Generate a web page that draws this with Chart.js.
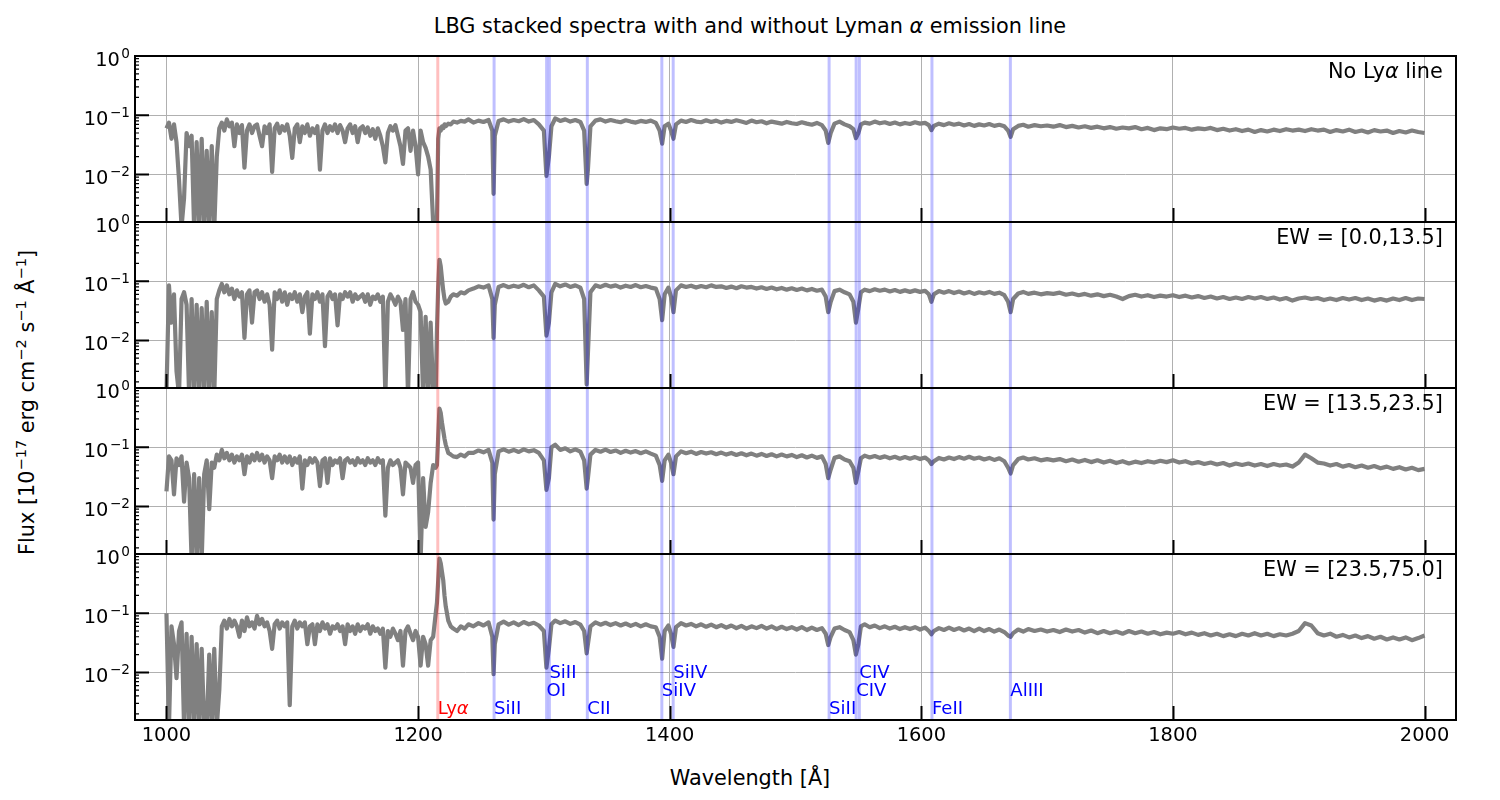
<!DOCTYPE html>
<html>
<head>
<meta charset="utf-8">
<script src="https://cdn.jsdelivr.net/npm/chart.js@4.4.1/dist/chart.umd.min.js"></script>
<style>
  body { margin: 0; background: #fff; font-family: "DejaVu Sans", sans-serif; }
  #page { position: relative; width: 1500px; height: 800px; overflow: hidden; background: #fff; }
  canvas { position: absolute; left: 0; }
  .txt { position: absolute; color: #000; font-size: 20.8px; line-height: 20.8px; white-space: nowrap; }
  .e { font-size: 70%; position: relative; top: -0.55em; }
  .m { display: inline-block; width: 0.838em; text-align: center; }
</style>
</head>
<body>
<div id="page">
  <div class="txt" style="left:0;top:16px;width:1500px;text-align:center">LBG stacked spectra with and without Lyman <i>α</i> emission line</div>
  <div class="txt" style="left:0;top:768px;width:1500px;text-align:center">Wavelength [Å]</div>
  <div class="txt" style="left:-172px;top:391px;width:400px;text-align:center;transform:rotate(-90deg)">Flux [10<span class="e"><span class="m">−</span>17</span> erg cm<span class="e"><span class="m">−</span>2</span> s<span class="e"><span class="m">−</span>1</span> Å<span class="e"><span class="m">−</span>1</span>]</div>
</div>
<script>
// Wavelength grid [Å] shared by the four stacks
const wave = [
  // Lyman forest
  1000, 1002, 1004, 1006, 1008, 1010, 1012, 1014, 1016, 1018, 1020, 1022,
  1024, 1026, 1028, 1030, 1032, 1034, 1036, 1038, 1040, 1042, 1044, 1046,
  1048, 1050, 1052, 1054, 1056, 1058, 1060, 1062, 1064, 1066, 1068, 1070,
  1072, 1074, 1076, 1078, 1080, 1082, 1084, 1086, 1088, 1090, 1092, 1094,
  1096, 1098, 1100, 1102, 1104, 1106, 1108, 1110, 1112, 1114, 1116, 1118,
  1120, 1122, 1124, 1126, 1128, 1130, 1132, 1134, 1136, 1138, 1140, 1142,
  1144, 1146, 1148, 1150, 1152, 1154, 1156, 1158, 1160, 1162, 1164, 1166,
  1168, 1170, 1172, 1174, 1176, 1178, 1180, 1182, 1184, 1186, 1188, 1190,
  1192, 1194, 1196, 1198, 1200, 1202, 1204, 1206, 1208, 1210, 1212,
  // Lyman alpha
  1214, 1215, 1216, 1217, 1218, 1219, 1220, 1221, 1222, 1224, 1226, 1228, 1231, 1234, 1237, 1240,
  // metal lines
  1244, 1248, 1252, 1256, 1259, 1260, 1261, 1264, 1268, 1272,
  1276, 1280, 1284, 1288, 1292, 1296, 1300, 1302, 1304, 1306,
  1309, 1313, 1317, 1321, 1325, 1329, 1332, 1334, 1335, 1337,
  1341, 1345, 1349, 1353, 1357, 1361, 1365, 1369, 1373, 1377,
  1381, 1385, 1389, 1392, 1394, 1396, 1399, 1401, 1403, 1405,
  1409, 1413, 1417, 1421, 1425, 1429, 1433, 1437, 1441, 1445,
  1449, 1453, 1457, 1461, 1465, 1469, 1473, 1477, 1481, 1485,
  1489, 1493, 1497, 1501, 1505, 1509, 1513, 1517, 1521, 1524,
  1526, 1528, 1531, 1535, 1539, 1543, 1546, 1548, 1550, 1552,
  1555, 1559, 1563, 1567, 1571, 1575, 1579, 1583, 1587, 1591,
  1595, 1599, 1603, 1606, 1608, 1610, 1614, 1618, 1622, 1626,
  1630, 1634, 1638, 1642, 1646, 1650, 1654, 1658, 1662, 1666,
  1669, 1671, 1673, 1677, 1681, 1685, 1690, 1695, 1700,
  // red side
  1705, 1710, 1715, 1720, 1725, 1730, 1735, 1740, 1745, 1750,
  1755, 1760, 1765, 1770, 1775, 1780, 1785, 1790, 1795, 1800,
  1805, 1810, 1815, 1820, 1825, 1830, 1835, 1840, 1845, 1850,
  1855, 1860, 1865, 1870, 1875, 1880, 1885, 1890, 1895, 1900,
  1905, 1910, 1915, 1920, 1925, 1930, 1935, 1940, 1945, 1950,
  1955, 1960, 1965, 1970, 1975, 1980, 1985, 1990, 1995, 2000
];

// Flux [1e-17 erg/cm2/s/A], one array per stack
const fluxNoLya = [
  0.06, 0.075, 0.04, 0.07, 0.035, 0.008, 0.0013, 0.004, 0.05, 0.03, 0.045, 0.0012,
  0.035, 0.0012, 0.04, 0.0012, 0.025, 0.0012, 0.03, 0.0012, 0.02, 0.06, 0.075, 0.055,
  0.085, 0.065, 0.075, 0.03, 0.07, 0.05, 0.068, 0.013, 0.055, 0.07, 0.05, 0.065,
  0.07, 0.045, 0.03, 0.065, 0.05, 0.07, 0.011, 0.06, 0.072, 0.05, 0.065, 0.055,
  0.07, 0.045, 0.019, 0.06, 0.07, 0.035, 0.065, 0.05, 0.07, 0.045, 0.06, 0.05,
  0.065, 0.012, 0.055, 0.07, 0.05, 0.065, 0.055, 0.07, 0.05, 0.068, 0.055, 0.035,
  0.06, 0.07, 0.05, 0.065, 0.035, 0.06, 0.065, 0.05, 0.062, 0.045, 0.058, 0.04,
  0.06, 0.045, 0.03, 0.016, 0.05, 0.065, 0.055, 0.068, 0.045, 0.03, 0.015, 0.055,
  0.06, 0.025, 0.055, 0.03, 0.01, 0.055, 0.035, 0.028, 0.02, 0.012, 0.0015,
  0.0012, 0.0015, 0.04, 0.06, 0.055, 0.065, 0.06, 0.07, 0.065, 0.072, 0.07, 0.078, 0.075, 0.08, 0.078, 0.085,
  0.075, 0.081, 0.077, 0.083, 0.055, 0.0047, 0.045, 0.08, 0.085, 0.078,
  0.083, 0.079, 0.086, 0.078, 0.083, 0.07, 0.055, 0.0094, 0.02, 0.065,
  0.088, 0.08, 0.085, 0.078, 0.083, 0.077, 0.055, 0.0069, 0.012, 0.065,
  0.081, 0.085, 0.078, 0.083, 0.079, 0.076, 0.082, 0.078, 0.075, 0.08,
  0.077, 0.081, 0.074, 0.055, 0.033, 0.065, 0.072, 0.055, 0.04, 0.07,
  0.081, 0.077, 0.083, 0.078, 0.076, 0.082, 0.077, 0.081, 0.075, 0.08,
  0.077, 0.082, 0.078, 0.074, 0.081, 0.076, 0.079, 0.073, 0.078, 0.075,
  0.072, 0.077, 0.073, 0.071, 0.076, 0.072, 0.069, 0.074, 0.068, 0.055,
  0.034, 0.05, 0.072, 0.078, 0.07, 0.065, 0.058, 0.041, 0.05, 0.07,
  0.075, 0.072, 0.078, 0.073, 0.076, 0.071, 0.075, 0.07, 0.074, 0.071,
  0.076, 0.072, 0.074, 0.068, 0.056, 0.066, 0.072, 0.068, 0.073, 0.069,
  0.072, 0.067, 0.071, 0.066, 0.07, 0.067, 0.071, 0.066, 0.069, 0.065,
  0.055, 0.043, 0.058, 0.066, 0.069, 0.064, 0.068, 0.065, 0.067,
  0.064, 0.068, 0.063, 0.066, 0.062, 0.065, 0.061, 0.064, 0.06, 0.063,
  0.059, 0.062, 0.06, 0.063, 0.058, 0.061, 0.056, 0.06, 0.058, 0.062,
  0.059, 0.061, 0.057, 0.06, 0.058, 0.061, 0.056, 0.059, 0.055, 0.058,
  0.054, 0.057, 0.052, 0.056, 0.053, 0.057, 0.054, 0.058, 0.055, 0.057,
  0.054, 0.058, 0.055, 0.057, 0.052, 0.056, 0.053, 0.057, 0.052, 0.055,
  0.051, 0.056, 0.053, 0.055, 0.05, 0.054, 0.051, 0.055, 0.052, 0.05
];

const fluxEwLow = [
  0.0013, 0.085, 0.02, 0.06, 0.003, 0.0012, 0.05, 0.065, 0.04, 0.0012, 0.05, 0.0012,
  0.04, 0.0012, 0.035, 0.0012, 0.045, 0.0012, 0.03, 0.0012, 0.05, 0.07, 0.09, 0.065,
  0.085, 0.06, 0.075, 0.05, 0.07, 0.055, 0.065, 0.011, 0.06, 0.07, 0.02, 0.065,
  0.07, 0.05, 0.065, 0.045, 0.06, 0.04, 0.007, 0.065, 0.05, 0.07, 0.045, 0.065,
  0.04, 0.06, 0.05, 0.065, 0.045, 0.06, 0.03, 0.055, 0.065, 0.013, 0.06, 0.05,
  0.065, 0.045, 0.06, 0.008, 0.055, 0.065, 0.05, 0.06, 0.018, 0.06, 0.05, 0.065,
  0.055, 0.065, 0.045, 0.06, 0.05, 0.055, 0.06, 0.045, 0.06, 0.04, 0.055, 0.05,
  0.06, 0.045, 0.055, 0.0012, 0.045, 0.06, 0.05, 0.04, 0.055, 0.045, 0.015, 0.05,
  0.0012, 0.05, 0.065, 0.045, 0.04, 0.03, 0.0012, 0.025, 0.0012, 0.02, 0.0012,
  0.0012, 0.015, 0.08, 0.23, 0.18, 0.11, 0.07, 0.05, 0.042, 0.045, 0.055, 0.06, 0.057, 0.065, 0.062, 0.07,
  0.075, 0.082, 0.078, 0.085, 0.05, 0.011, 0.04, 0.08, 0.086, 0.079,
  0.084, 0.08, 0.087, 0.079, 0.085, 0.07, 0.055, 0.012, 0.02, 0.065,
  0.09, 0.082, 0.088, 0.08, 0.085, 0.078, 0.05, 0.0018, 0.006, 0.065,
  0.085, 0.08, 0.087, 0.081, 0.085, 0.078, 0.084, 0.08, 0.086, 0.079,
  0.083, 0.078, 0.075, 0.05, 0.022, 0.06, 0.078, 0.055, 0.03, 0.07,
  0.085, 0.08, 0.084, 0.078, 0.083, 0.079, 0.085, 0.08, 0.082, 0.077,
  0.081, 0.076, 0.082, 0.078, 0.08, 0.075, 0.079, 0.074, 0.078, 0.073,
  0.077, 0.072, 0.076, 0.071, 0.075, 0.07, 0.074, 0.069, 0.072, 0.055,
  0.03, 0.045, 0.068, 0.072, 0.065, 0.06, 0.045, 0.02, 0.035, 0.065,
  0.072, 0.068, 0.073, 0.069, 0.072, 0.067, 0.071, 0.066, 0.07, 0.066,
  0.07, 0.066, 0.069, 0.06, 0.045, 0.06, 0.068, 0.064, 0.068, 0.063,
  0.067, 0.062, 0.066, 0.061, 0.065, 0.062, 0.066, 0.061, 0.064, 0.058,
  0.045, 0.03, 0.05, 0.062, 0.066, 0.061, 0.064, 0.06, 0.063,
  0.061, 0.064, 0.059, 0.062, 0.058, 0.061, 0.057, 0.06, 0.056, 0.059,
  0.055, 0.05, 0.056, 0.059, 0.055, 0.058, 0.054, 0.057, 0.055, 0.058,
  0.054, 0.057, 0.053, 0.056, 0.052, 0.055, 0.051, 0.054, 0.05, 0.053,
  0.05, 0.054, 0.051, 0.054, 0.05, 0.053, 0.049, 0.052, 0.047, 0.051,
  0.053, 0.05, 0.052, 0.048, 0.051, 0.048, 0.052, 0.049, 0.052, 0.048,
  0.051, 0.047, 0.05, 0.047, 0.051, 0.048, 0.052, 0.048, 0.051, 0.05
];

const fluxEwMid = [
  0.018, 0.07, 0.06, 0.016, 0.065, 0.05, 0.07, 0.012, 0.055, 0.03, 0.0012, 0.035,
  0.0012, 0.03, 0.0012, 0.035, 0.06, 0.009, 0.055, 0.045, 0.075, 0.06, 0.09, 0.065,
  0.08, 0.06, 0.075, 0.055, 0.07, 0.06, 0.075, 0.035, 0.07, 0.055, 0.075, 0.06,
  0.08, 0.06, 0.075, 0.055, 0.07, 0.06, 0.03, 0.07, 0.06, 0.075, 0.055, 0.07,
  0.055, 0.07, 0.05, 0.065, 0.055, 0.07, 0.02, 0.06, 0.05, 0.065, 0.055, 0.065,
  0.055, 0.022, 0.06, 0.065, 0.025, 0.065, 0.05, 0.06, 0.055, 0.065, 0.03, 0.06,
  0.065, 0.055, 0.06, 0.05, 0.065, 0.055, 0.06, 0.05, 0.065, 0.055, 0.06, 0.05,
  0.065, 0.055, 0.06, 0.007, 0.045, 0.06, 0.05, 0.055, 0.06, 0.045, 0.016, 0.055,
  0.05, 0.045, 0.025, 0.05, 0.055, 0.0012, 0.03, 0.0045, 0.008, 0.025, 0.05,
  0.045, 0.05, 0.15, 0.45, 0.38, 0.26, 0.19, 0.14, 0.11, 0.08, 0.075, 0.07, 0.068, 0.075, 0.07, 0.08,
  0.08, 0.088, 0.082, 0.09, 0.055, 0.006, 0.035, 0.085, 0.092, 0.084,
  0.09, 0.083, 0.092, 0.085, 0.089, 0.08, 0.06, 0.019, 0.03, 0.1,
  0.11, 0.09, 0.096, 0.085, 0.092, 0.084, 0.06, 0.02, 0.03, 0.075,
  0.09, 0.084, 0.091, 0.083, 0.088, 0.08, 0.087, 0.081, 0.086, 0.079,
  0.085, 0.078, 0.072, 0.05, 0.027, 0.06, 0.075, 0.055, 0.035, 0.07,
  0.085, 0.079, 0.084, 0.077, 0.083, 0.078, 0.082, 0.076, 0.081, 0.075,
  0.08, 0.074, 0.079, 0.073, 0.078, 0.072, 0.077, 0.071, 0.076, 0.07,
  0.075, 0.07, 0.074, 0.068, 0.073, 0.067, 0.072, 0.066, 0.07, 0.052,
  0.03, 0.042, 0.066, 0.07, 0.062, 0.058, 0.045, 0.025, 0.04, 0.065,
  0.072, 0.067, 0.071, 0.066, 0.07, 0.065, 0.069, 0.064, 0.068, 0.064,
  0.068, 0.063, 0.067, 0.06, 0.052, 0.058, 0.066, 0.062, 0.067, 0.063,
  0.068, 0.064, 0.069, 0.064, 0.067, 0.062, 0.066, 0.061, 0.065, 0.058,
  0.045, 0.036, 0.05, 0.063, 0.067, 0.062, 0.065, 0.06, 0.063,
  0.06, 0.063, 0.058, 0.062, 0.057, 0.061, 0.056, 0.06, 0.055, 0.059,
  0.054, 0.058, 0.053, 0.057, 0.054, 0.058, 0.055, 0.059, 0.056, 0.06,
  0.055, 0.058, 0.053, 0.056, 0.052, 0.055, 0.051, 0.054, 0.049, 0.053,
  0.05, 0.053, 0.049, 0.052, 0.048, 0.052, 0.049, 0.051, 0.047, 0.055,
  0.075, 0.065, 0.055, 0.053, 0.049, 0.052, 0.047, 0.05, 0.046, 0.049,
  0.045, 0.048, 0.044, 0.047, 0.043, 0.046, 0.042, 0.045, 0.041, 0.043
];

const fluxEwHigh = [
  0.1, 0.0012, 0.06, 0.03, 0.008, 0.05, 0.07, 0.0012, 0.045, 0.0012, 0.04, 0.0012,
  0.03, 0.0012, 0.025, 0.0012, 0.0012, 0.02, 0.0012, 0.025, 0.0012, 0.005, 0.06, 0.075,
  0.055, 0.08, 0.06, 0.075, 0.06, 0.04, 0.075, 0.05, 0.085, 0.06, 0.07, 0.055,
  0.09, 0.065, 0.08, 0.06, 0.07, 0.05, 0.025, 0.065, 0.075, 0.055, 0.07, 0.06,
  0.07, 0.0028, 0.06, 0.075, 0.055, 0.07, 0.06, 0.07, 0.03, 0.06, 0.065, 0.03,
  0.065, 0.05, 0.07, 0.055, 0.065, 0.045, 0.06, 0.055, 0.065, 0.05, 0.06, 0.03,
  0.065, 0.05, 0.06, 0.045, 0.065, 0.05, 0.06, 0.055, 0.065, 0.045, 0.06, 0.05,
  0.055, 0.045, 0.055, 0.012, 0.05, 0.04, 0.055, 0.045, 0.035, 0.05, 0.013, 0.05,
  0.06, 0.045, 0.035, 0.05, 0.04, 0.013, 0.04, 0.03, 0.013, 0.035, 0.04,
  0.098, 0.15, 0.35, 0.84, 0.7, 0.5, 0.36, 0.2, 0.13, 0.075, 0.06, 0.055, 0.05, 0.06, 0.055, 0.065,
  0.06, 0.068, 0.062, 0.07, 0.04, 0.0093, 0.03, 0.065, 0.072, 0.064,
  0.07, 0.063, 0.071, 0.065, 0.069, 0.062, 0.05, 0.012, 0.025, 0.065,
  0.075, 0.068, 0.073, 0.066, 0.071, 0.064, 0.05, 0.021, 0.03, 0.06,
  0.07, 0.064, 0.069, 0.063, 0.068, 0.062, 0.067, 0.061, 0.066, 0.06,
  0.065, 0.06, 0.058, 0.04, 0.017, 0.05, 0.062, 0.045, 0.027, 0.058,
  0.068, 0.062, 0.066, 0.06, 0.065, 0.059, 0.064, 0.058, 0.063, 0.057,
  0.062, 0.056, 0.061, 0.055, 0.06, 0.056, 0.061, 0.055, 0.06, 0.054,
  0.059, 0.054, 0.058, 0.053, 0.058, 0.052, 0.057, 0.052, 0.056, 0.045,
  0.029, 0.04, 0.055, 0.058, 0.052, 0.048, 0.035, 0.02, 0.03, 0.06,
  0.065, 0.058, 0.062, 0.056, 0.06, 0.055, 0.059, 0.054, 0.058, 0.054,
  0.058, 0.053, 0.057, 0.05, 0.044, 0.05, 0.056, 0.052, 0.057, 0.052,
  0.056, 0.051, 0.055, 0.05, 0.055, 0.05, 0.054, 0.049, 0.053, 0.048,
  0.042, 0.04, 0.046, 0.053, 0.049, 0.054, 0.05, 0.053, 0.049,
  0.052, 0.048, 0.053, 0.049, 0.052, 0.047, 0.051, 0.046, 0.05, 0.046,
  0.049, 0.045, 0.05, 0.046, 0.049, 0.045, 0.048, 0.044, 0.047, 0.045,
  0.048, 0.044, 0.047, 0.043, 0.046, 0.042, 0.045, 0.041, 0.044, 0.041,
  0.045, 0.042, 0.046, 0.042, 0.045, 0.041, 0.044, 0.042, 0.045, 0.05,
  0.068, 0.062, 0.046, 0.042, 0.045, 0.04, 0.043, 0.039, 0.042, 0.038,
  0.041, 0.037, 0.04, 0.036, 0.039, 0.036, 0.039, 0.035, 0.038, 0.042
];

const panelLabels = ['No Lyα line', 'EW = [0.0,13.5]', 'EW = [13.5,23.5]', 'EW = [23.5,75.0]'];
const xTicks = [1000, 1200, 1400, 1600, 1800, 2000];
const yTicks = [0.01, 0.1, 1];

// marked lines: rest wavelength, label, height of the label in the bottom panel
const lineWaves = [1215.67, 1260.42, 1302.17, 1304.37, 1334.53, 1393.76, 1402.77, 1526.71, 1548.19, 1550.77, 1608.45, 1670.79];
const lineNames = ['Lyα', 'SiII', 'OI', 'SiII', 'CII', 'SiIV', 'SiIV', 'SiII', 'CIV', 'CIV', 'FeII', 'AlIII'];
const lineLabelY = [0.002, 0.002, 0.004, 0.008, 0.002, 0.004, 0.008, 0.002, 0.004, 0.008, 0.002, 0.004];

const fluxes = [fluxNoLya, fluxEwLow, fluxEwMid, fluxEwHigh];
const panelTops = [56, 222, 388, 554];
const panelH = 166;
const yMin = 0.00157;
const FONT = '"DejaVu Sans"';

// text with an italic alpha, like matplotlib mathtext
function drawMixed(ctx, text, x, y, size, align, color) {
    const segs = [];
    text.split('α').forEach((p, i, arr) => {
        if (p) segs.push([p, false]);
        if (i < arr.length - 1) segs.push(['α', true]);
    });
    const fontOf = s => (s[1] ? 'italic ' : '') + size + 'px ' + FONT;
    let total = 0;
    const ws = segs.map(s => {
        ctx.font = fontOf(s);
        const w = ctx.measureText(s[0]).width;
        total += w;
        return w;
    });
    let cx = align === 'right' ? x - total : x;
    ctx.fillStyle = color;
    ctx.textAlign = 'left';
    ctx.textBaseline = 'alphabetic';
    segs.forEach((s, i) => {
        ctx.font = fontOf(s);
        ctx.fillText(s[0], cx, y);
        cx += ws[i];
    });
}

// 10^n tick label; the minus gets the wide advance of a math minus sign
function drawPow(ctx, v, xr, yc) {
    const n = Math.round(Math.log10(v));
    const digits = String(Math.abs(n));
    const big = '19.4px ' + FONT, small = '13.6px ' + FONT;
    const minusW = n < 0 ? 0.838 * 13.6 : 0;
    ctx.font = big;
    const w1 = ctx.measureText('10').width + 1.5;
    ctx.font = small;
    const w2 = ctx.measureText(digits).width;
    const x0 = xr - w1 - minusW - w2;
    ctx.fillStyle = '#000';
    ctx.textBaseline = 'alphabetic';
    ctx.font = big;
    ctx.textAlign = 'left';
    ctx.fillText('10', x0, yc + 9.5);
    ctx.font = small;
    if (n < 0) {
        ctx.textAlign = 'center';
        ctx.fillText('\u2212', x0 + w1 + minusW / 2, yc + 2);
    }
    ctx.textAlign = 'left';
    ctx.fillText(digits, x0 + w1 + minusW, yc + 2);
}

const panelDecor = {
    id: 'panelDecor',
    afterDatasetsDraw(chart, args, opts) {
        const ctx = chart.ctx, a = chart.chartArea;
        const xs = chart.scales.x, ys = chart.scales.y;
        ctx.save();

        // line markers, drawn over the spectrum
        ctx.lineWidth = 3;
        lineWaves.forEach((w, i) => {
            const px = xs.getPixelForValue(w);
            ctx.strokeStyle = i === 0 ? 'rgba(255,0,0,0.25)' : 'rgba(0,0,255,0.25)';
            ctx.beginPath();
            ctx.moveTo(px, a.top);
            ctx.lineTo(px, a.bottom);
            ctx.stroke();
        });

        // inward ticks
        ctx.strokeStyle = '#000';
        ctx.lineWidth = 2;
        ctx.beginPath();
        xTicks.forEach(v => {
            const px = Math.round(xs.getPixelForValue(v)) + 0.5;
            ctx.moveTo(px, a.bottom);
            ctx.lineTo(px, a.bottom - 14);
        });
        yTicks.forEach(v => {
            const py = ys.getPixelForValue(v);
            ctx.moveTo(a.left, py);
            ctx.lineTo(a.left + 14, py);
        });
        ctx.stroke();
        ctx.lineWidth = 1.2;
        ctx.beginPath();
        for (let e = -3; e < 0; e++) {
            for (let k = 2; k < 10; k++) {
                const v = k * Math.pow(10, e);
                if (v < yMin) continue;
                const py = ys.getPixelForValue(v);
                ctx.moveTo(a.left, py);
                ctx.lineTo(a.left + 4, py);
            }
        }
        ctx.stroke();

        // frame
        ctx.lineWidth = 2;
        ctx.strokeRect(a.left, a.top, a.right - a.left, a.bottom - a.top);

        // y tick labels
        yTicks.forEach(v => drawPow(ctx, v, a.left - 5, ys.getPixelForValue(v)));

        // panel label
        drawMixed(ctx, panelLabels[opts.index], a.right - 0.01 * (a.right - a.left), a.top + 21.5, 20.8, 'right', '#000');

        if (opts.index === panelTops.length - 1) {
            ctx.fillStyle = '#000';
            ctx.font = '19.4px ' + FONT;
            ctx.textAlign = 'center';
            ctx.textBaseline = 'alphabetic';
            xTicks.forEach(v => ctx.fillText(String(v), xs.getPixelForValue(v), a.bottom + 21));
            lineNames.forEach((n, i) => {
                drawMixed(ctx, n, xs.getPixelForValue(lineWaves[i]), ys.getPixelForValue(lineLabelY[i]),
                    18.06, 'left', i === 0 ? '#ff0000' : '#0000ff');
            });
        }
        ctx.restore();
    }
};

const page = document.getElementById('page');
panelTops.forEach((top, i) => {
    const last = i === panelTops.length - 1;
    const cv = document.createElement('canvas');
    cv.width = 1500;
    cv.height = 20 + panelH + (last ? 40 : 20);
    cv.style.top = (top - 20) + 'px';
    page.appendChild(cv);

    new Chart(cv.getContext('2d'), {
        type: 'line',
        data: {
            datasets: [{
                data: wave.map((w, j) => ({ x: w, y: fluxes[i][j] })),
                borderColor: '#808080',
                borderWidth: 4.2,
                borderJoinStyle: 'round',
                pointRadius: 0,
                tension: 0,
                fill: false,
                clip: 0
            }]
        },
        options: {
            responsive: false,
            animation: false,
            events: [],
            layout: { padding: { top: 20, bottom: last ? 0 : 20, left: 0, right: 44 } },
            plugins: {
                legend: { display: false },
                tooltip: { enabled: false },
                panelDecor: { index: i }
            },
            scales: {
                x: {
                    type: 'linear',
                    min: 975,
                    max: 2025,
                    afterBuildTicks: s => { s.ticks = xTicks.map(v => ({ value: v })); },
                    afterFit: s => { s.height = last ? 40 : 0; },
                    ticks: { display: false },
                    grid: { color: '#b0b0b0', lineWidth: 1, drawTicks: false },
                    border: { display: false }
                },
                y: {
                    type: 'logarithmic',
                    min: yMin,
                    max: 1,
                    afterBuildTicks: s => { s.ticks = yTicks.map(v => ({ value: v })); },
                    afterFit: s => { s.width = 135; },
                    ticks: { display: false },
                    grid: { color: '#b0b0b0', lineWidth: 1, drawTicks: false },
                    border: { display: false }
                }
            }
        },
        plugins: [panelDecor]
    });
});
</script>
</body>
</html>
